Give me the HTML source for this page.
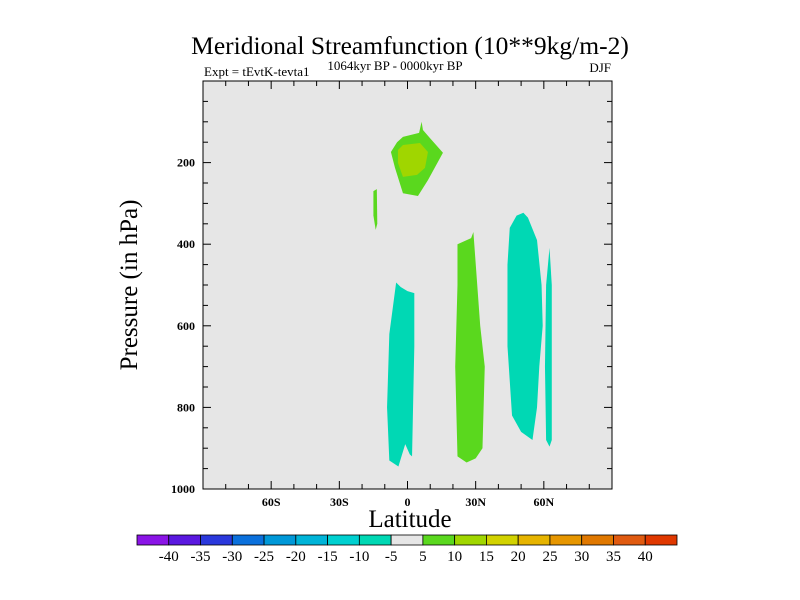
<!DOCTYPE html>
<html><head><meta charset="utf-8"><style>
body{margin:0;background:#fff;}
svg{display:block;font-family:"Liberation Serif",serif;}
</style></head><body>
<svg id="chart" width="800" height="600">
<text x="410" y="54" font-size="25.5" text-anchor="middle">Meridional Streamfunction (10**9kg/m-2)</text>
<text x="204" y="76" font-size="13">Expt = tEvtK-tevta1</text>
<text x="395" y="70" font-size="13" text-anchor="middle">1064kyr BP - 0000kyr BP</text>
<text x="611" y="72" font-size="13" text-anchor="end">DJF</text>
<rect x="203" y="81" width="409" height="408" fill="#e6e6e6"/>
<g id="contours"></g>
<rect x="203" y="81" width="409" height="408" fill="none" stroke="#000" stroke-width="1"/>
<g id="axes"></g>
<text x="410" y="527" font-size="25" text-anchor="middle">Latitude</text>
<text transform="translate(137,285) rotate(-90)" font-size="25" text-anchor="middle">Pressure (in hPa)</text>
<g id="colorbar"></g>
</svg>
<script>
const xTicks=[-60,-30,0,30,60];
const xTickLabels=["60S","30S","0","30N","60N"];
const yTicks=[200,400,600,800,1000];
const cbLabels=[-40,-35,-30,-25,-20,-15,-10,-5,5,10,15,20,25,30,35,40];
const cbColors=["#8a14e6","#5a18e0","#2a38dc","#0a70dc","#0098d8","#00b4d8","#00d0d0","#00d8b4","#e6e6e6","#5ad81e","#a0d600","#d2d200","#e6b400","#e69600","#e07800","#e05a10","#e03800"];
const blobOuterLat=[6.2,5.1,-2,-4.6,-7.3,-5.5,-2,4.6,9,15.6,9.9,6.8];
const blobOuterP=[100,127,137,150,174,213,275,282,243,176,140,120];
const blobInnerLat=[-4.2,-2,5.5,9,7.7,4.2,-2,-4.2];
const blobInnerP=[169,157,152,174,213,230,235,201];
const sliverLat=[-15,-13.5,-13.3,-14,-15];
const sliverP=[270,265,350,365,330];
const leftLat=[-5,-3,0,3,3,2,1,-1,-4,-8,-9,-8];
const leftP=[494,505,515,520,650,920,915,890,945,930,800,620];
const midLat=[22,28,29,32,34,33,30,26,22,21,22];
const midP=[400,385,370,600,700,900,925,935,920,700,500];
const rightLat=[45,48,51,53,57,59,59.5,58,57,55,50,46,44,44];
const rightP=[360,330,323,335,390,500,600,700,800,880,860,820,650,450];
const narrowLat=[62.5,63.5,63.5,62.5,61,60.5,61];
const narrowP=[409,500,880,896,880,700,500];
const X=l=>407.5+(l)*409/180;
const Y=p=>81+p*408/1000;
const NS="http://www.w3.org/2000/svg";
function mk(t,parent,at){const e=document.createElementNS(NS,t);for(const k in at)e.setAttribute(k,at[k]);parent.appendChild(e);return e;}
const cg=document.getElementById('contours');
function poly(lats,ps,fill,name){const pts=lats.map((l,i)=>X(l)+","+Y(ps[i])).join(" ");const e=mk('polygon',cg,{points:pts,fill:fill});

}
poly(blobOuterLat,blobOuterP,"#5ad81e","contour-upper-5to10");
poly(blobInnerLat,blobInnerP,"#a0d600","contour-upper-10to15");
poly(sliverLat,sliverP,"#5ad81e","contour-sliver-5to10");
poly(leftLat,leftP,"#00d8b4","contour-left-neg10to5");
poly(midLat,midP,"#5ad81e","contour-middle-5to10");
poly(rightLat,rightP,"#00d8b4","contour-right-neg10to5");
poly(narrowLat,narrowP,"#00d8b4","contour-narrow-neg10to5");
const ag=document.getElementById('axes');
for(let l=-80;l<=80;l+=10){const maj=l%30===0;const len=maj?8:5;
mk('line',ag,{x1:X(l),x2:X(l),y1:489,y2:489-len,stroke:"#000"});
mk('line',ag,{x1:X(l),x2:X(l),y1:81,y2:81+len,stroke:"#000"});}
for(let p=50;p<1000;p+=50){const maj=p%200===0;const len=maj?8:5;
mk('line',ag,{x1:203,x2:203+len,y1:Y(p),y2:Y(p),stroke:"#000"});
mk('line',ag,{x1:612,x2:612-len,y1:Y(p),y2:Y(p),stroke:"#000"});}
xTicks.forEach((l,i)=>{const t=mk('text',ag,{x:X(l),y:506,'font-size':12,'text-anchor':'middle','font-weight':'bold'});t.textContent=xTickLabels[i];

});
yTicks.forEach(p=>{const t=mk('text',ag,{x:195,y:Y(p)+4,'font-size':12,'text-anchor':'end','font-weight':'bold'});t.textContent=p;

});
const cb=document.getElementById('colorbar');
const w=540/cbColors.length;
cbColors.forEach((c,i)=>{const r=mk('rect',cb,{x:137+i*w,y:535,width:w,height:10,fill:c,stroke:"#000",'stroke-width':0.8});

});
cbLabels.forEach((v,i)=>{const t=mk('text',cb,{x:137+(i+1)*w,y:561,'font-size':15,'text-anchor':'middle'});t.textContent=v;

});
</script>
</body></html>
